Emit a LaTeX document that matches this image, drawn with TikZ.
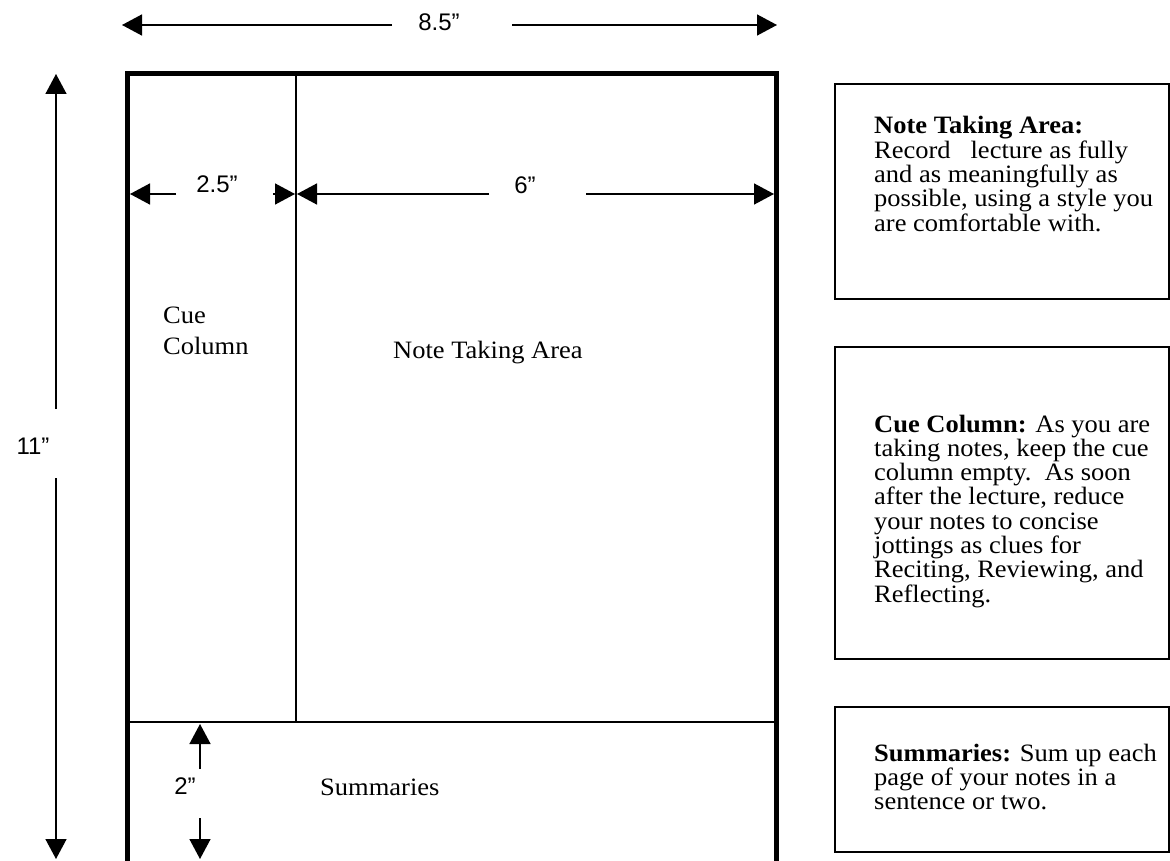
\documentclass[tikz,border=0pt]{standalone}
\usepackage{fontspec}
\setmainfont{Liberation Serif}[FakeStretch=1.06]
\newfontfamily\dimfont{Liberation Sans}
\usetikzlibrary{arrows.meta}
\begin{document}
\begin{tikzpicture}[x=1pt,y=-1pt,
  dimline/.style={line width=1.5pt,-{Triangle[length=20pt,width=21pt]}},
  dimlabel/.style={font=\dimfont\fontsize{24}{26}\selectfont,inner sep=0pt},
  seriflabel/.style={font=\fontsize{25}{24.3}\selectfont,inner sep=0pt,anchor=base west},
  infobox/.style={draw,line width=2pt,inner sep=0pt,anchor=north west},
  boxtext/.style={font=\fontsize{25}{24.3}\selectfont,inner sep=0pt,anchor=base west}]
\useasboundingbox (0,0) rectangle (1170,861);
\clip (0,0) rectangle (1170,861);

% page frame
\draw[line width=5pt] (127.5,900) -- (127.5,74) -- (776,74) -- (776,900);
\draw[line width=1.5pt] (296,74) -- (296,722);
\draw[line width=2.5pt] (127.5,722) -- (776,722);

% 8.5" dimension
\node[dimlabel] (lab85) at (439,22) {8.5”};
\coordinate (e85l) at (392,25); \coordinate (t85l) at (122,25);
\coordinate (e85r) at (512,25); \coordinate (t85r) at (777,25);
\draw[dimline] (e85l) -- (t85l);
\draw[dimline] (e85r) -- (t85r);

% 11" dimension
\node[dimlabel] (lab11) at (33,446) {11”};
\coordinate (e11t) at (56,409); \coordinate (t11t) at (56,74);
\coordinate (e11b) at (56,478); \coordinate (t11b) at (56,859);
\draw[dimline] (e11t) -- (t11t);
\draw[dimline] (e11b) -- (t11b);

% 2.5" dimension
\node[dimlabel] (lab25) at (217,184) {2.5”};
\coordinate (e25l) at (176,194); \coordinate (t25l) at (130,194);
\coordinate (e25r) at (273,194); \coordinate (t25r) at (295,194);
\draw[dimline] (e25l) -- (t25l);
\draw[dimline] (e25r) -- (t25r);

% 6" dimension
\node[dimlabel] (lab6) at (525,185) {6”};
\coordinate (e6l) at (489,194); \coordinate (t6l) at (297,194);
\coordinate (e6r) at (586,194); \coordinate (t6r) at (774,194);
\draw[dimline] (e6l) -- (t6l);
\draw[dimline] (e6r) -- (t6r);

% 2" dimension
\node[dimlabel] (lab2) at (185,786) {2”};
\coordinate (e2t) at (200,769); \coordinate (t2t) at (200,724);
\coordinate (e2b) at (200,818); \coordinate (t2b) at (200,859);
\draw[dimline] (e2t) -- (t2t);
\draw[dimline] (e2b) -- (t2b);

% labels in the page
\node[seriflabel,font=\fontsize{25}{31}\selectfont] (cue) at (163,323)
  {\vtop{\hbox{Cue}\hbox{Column}}};
\node[seriflabel] (nta) at (393,358) {Note Taking Area};
\node[seriflabel] (sum) at (320,795) {Summaries};

% explanation boxes
\node[infobox,minimum width=334pt,minimum height=215pt] (box1) at (834,83) {};
\node[infobox,minimum width=334pt,minimum height=312pt] (box2) at (834,346) {};
\node[infobox,minimum width=334pt,minimum height=145pt] (box3) at (834,706) {};

\node[boxtext] (txt1) at (874,134) {\vtop{%
  \hbox{\textbf{Note Taking Area:}}
  \hbox{Record\ \ \ lecture as fully}
  \hbox{and as meaningfully as}
  \hbox{possible, using a style you}
  \hbox{are comfortable with.}}};
\node[boxtext] (txt2) at (874,432) {\vtop{%
  \hbox{\textbf{Cue Column:} As you are}
  \hbox{taking notes, keep the cue}
  \hbox{column empty.\ \ As soon}
  \hbox{after the lecture, reduce}
  \hbox{your notes to concise}
  \hbox{jottings as clues for}
  \hbox{Reciting, Reviewing, and}
  \hbox{Reflecting.}}};
\node[boxtext] (txt3) at (874,761) {\vtop{%
  \hbox{\textbf{Summaries:} Sum up each}
  \hbox{page of your notes in a}
  \hbox{sentence or two.}}};
\end{tikzpicture}
\end{document}
